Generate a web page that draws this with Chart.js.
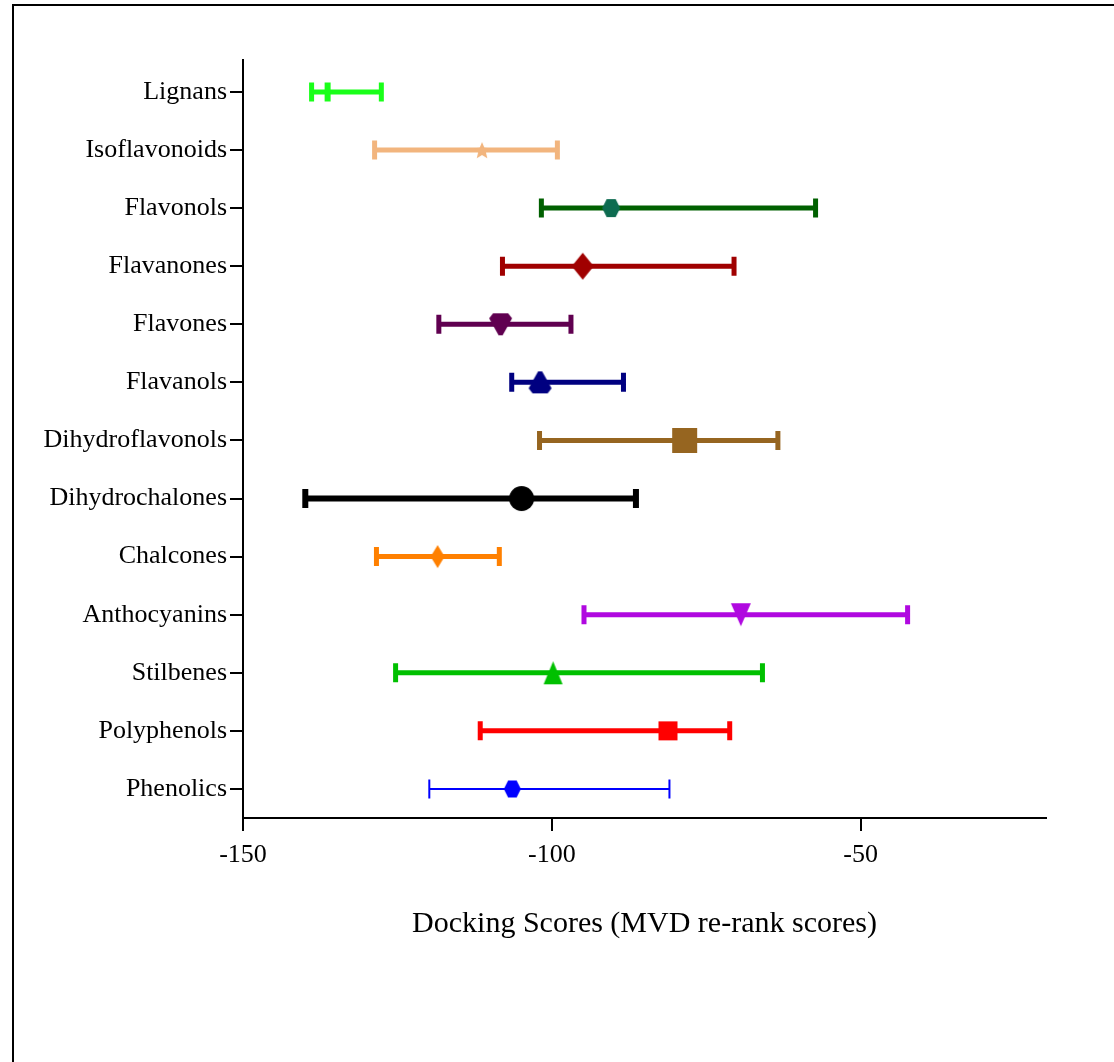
<!DOCTYPE html>
<html>
<head>
<meta charset="utf-8">
<title>Docking scores</title>
<script src="https://cdn.jsdelivr.net/npm/chart.js@4.4.1/dist/chart.umd.min.js"></script>
<style>
  html, body { margin: 0; padding: 0; background: #fff; }
  #wrap { position: relative; width: 1114px; height: 1062px; }
  #frame { position: absolute; left: 12px; top: 4px; right: 0; bottom: 0;
           border-top: 2px solid #000; border-left: 2px solid #000; }
  #chart { position: absolute; left: 0; top: 0; }
</style>
</head>
<body>
<div id="wrap">
  <div id="frame"></div>
  <canvas id="chart" width="1114" height="1062"></canvas>
</div>
<script>
// data (top to bottom)
const categories = ['Lignans', 'Isoflavonoids', 'Flavonols', 'Flavanones', 'Flavones', 'Flavanols',
  'Dihydroflavonols', 'Dihydrochalones', 'Chalcones', 'Anthocyanins', 'Stilbenes', 'Polyphenols', 'Phenolics'];
const means = [-136.3, -111.3, -90.4, -95.0, -108.3, -101.9, -78.5, -104.9, -118.5, -69.4, -99.8, -81.2, -106.4];
const lows  = [-139.3, -129.1, -102.1, -108.4, -118.7, -106.9, -102.4, -140.4, -128.8, -95.2, -125.7, -112.0, -120.0];
const highs = [-127.2, -98.7, -56.9, -70.1, -96.5, -88.0, -63.0, -85.9, -108.1, -42.0, -65.5, -70.8, -80.8];
const xTickValues = [-150, -100, -50];

// styling
const barColors = ['#19ff19', '#f2b57e', '#006000', '#a00000', '#600050', '#000080',
  '#966520', '#000000', '#ff8000', '#b008e0', '#00c000', '#ff0000', '#0000ff'];
const markerColors = ['#19ff19', '#f2b57e', '#0d6b50', '#a00000', '#600050', '#000080',
  '#966520', '#000000', '#ff8000', '#b008e0', '#00c000', '#ff0000', '#0000ff'];
const markerShapes = ['vbar', 'star', 'hex', 'diamond', 'downpent', 'uppent',
  'square', 'circle', 'diamond', 'down', 'up', 'square', 'hex'];
const markerSizes = [[6, 19], [18, 18], [18, 18], [22, 27], [23, 22], [23, 22],
  [25, 25], [25, 25], [14, 23], [20, 23], [19, 23], [19, 19], [17, 17]];
const lineWidths = [5, 5, 5, 5, 5, 5, 5, 6, 5, 5, 5, 5, 2];
const FONT = '"Liberation Serif", "Times New Roman", serif';

function makeMarker(shape, w, h, color) {
  const c = document.createElement('canvas');
  c.width = w + 2; c.height = h + 2;
  const g = c.getContext('2d');
  g.translate(c.width / 2, c.height / 2);
  g.fillStyle = color;
  const hw = w / 2, hh = h / 2;
  let pts = null;
  if (shape === 'vbar' || shape === 'square') {
    g.fillRect(-hw, -hh, w, h);
  } else if (shape === 'circle') {
    g.beginPath(); g.arc(0, 0, hw, 0, Math.PI * 2); g.fill();
  } else if (shape === 'diamond') {
    pts = [[0, -hh], [hw, 0], [0, hh], [-hw, 0]];
  } else if (shape === 'hex') {
    pts = [[-hw, 0], [-hw / 2, -hh], [hw / 2, -hh], [hw, 0], [hw / 2, hh], [-hw / 2, hh]];
  } else if (shape === 'up') {
    pts = [[0, -hh], [hw, hh], [-hw, hh]];
  } else if (shape === 'down') {
    pts = [[-hw, -hh], [hw, -hh], [0, hh]];
  } else if (shape === 'downpent') {
    pts = [[-hw + 4, -hh], [hw - 4, -hh], [hw, -hh + 5], [2, hh], [-2, hh], [-hw, -hh + 5]];
  } else if (shape === 'uppent') {
    pts = [[-2, -hh], [2, -hh], [hw, hh - 5], [hw - 4, hh], [-hw + 4, hh], [-hw, hh - 5]];
  } else if (shape === 'star') {
    pts = [];
    for (let k = 0; k < 10; k++) {
      const r = k % 2 === 0 ? hw : hw * 0.45;
      const a = -Math.PI / 2 + k * Math.PI / 5;
      pts.push([r * Math.cos(a), r * Math.sin(a) + 1]);
    }
  }
  if (pts) {
    g.beginPath();
    pts.forEach((p, i) => i ? g.lineTo(p[0], p[1]) : g.moveTo(p[0], p[1]));
    g.closePath(); g.fill();
  }
  return c;
}

const markers = categories.map((_, i) =>
  makeMarker(markerShapes[i], markerSizes[i][0], markerSizes[i][1], markerColors[i]));

// horizontal error bars with end caps, drawn under the markers
const errorBars = {
  id: 'errorBars',
  beforeDatasetsDraw(chart) {
    const { ctx, scales: { x, y } } = chart;
    ctx.save();
    ctx.lineCap = 'butt';
    categories.forEach((_, i) => {
      const py = y.getPixelForValue(i);
      const x0 = x.getPixelForValue(lows[i]);
      const x1 = x.getPixelForValue(highs[i]);
      const lw = lineWidths[i];
      ctx.strokeStyle = barColors[i];
      ctx.lineWidth = lw;
      ctx.beginPath();
      ctx.moveTo(x0, py); ctx.lineTo(x1, py);
      ctx.moveTo(x0 + lw / 2, py - 9.5); ctx.lineTo(x0 + lw / 2, py + 9.5);
      ctx.moveTo(x1 - lw / 2, py - 9.5); ctx.lineTo(x1 - lw / 2, py + 9.5);
      ctx.stroke();
    });
    ctx.restore();
  }
};

const ctx = document.getElementById('chart').getContext('2d');
new Chart(ctx, {
  type: 'scatter',
  data: {
    datasets: [{
      data: means.map((m, i) => ({ x: m, y: i })),
      pointStyle: markers,
      pointRadius: 12,
      showLine: false
    }]
  },
  options: {
    responsive: false,
    animation: false,
    layout: { padding: { top: 60, right: 68, bottom: 116, left: 0 } },
    plugins: { legend: { display: false }, tooltip: { enabled: false } },
    scales: {
      x: {
        type: 'linear',
        min: -150,
        max: -20,
        afterBuildTicks: s => { s.ticks = xTickValues.map(v => ({ value: v })); },
        afterFit: s => { s.height = 128; },
        grid: { drawOnChartArea: false, drawTicks: true, tickLength: 13, color: '#000', lineWidth: 2 },
        border: { display: true, color: '#000', width: 2 },
        ticks: { color: '#000', font: { family: FONT, size: 26 }, padding: 9 },
        title: {
          display: true,
          text: 'Docking Scores (MVD re-rank scores)',
          color: '#000',
          font: { family: FONT, size: 30 },
          padding: { top: 4, bottom: 4 }
        }
      },
      y: {
        type: 'linear',
        reverse: true,
        min: -0.55,
        max: 12.5,
        afterBuildTicks: s => { s.ticks = categories.map((_, i) => ({ value: i })); },
        afterFit: s => { s.width = 243; },
        grid: { drawOnChartArea: false, drawTicks: true, tickLength: 13, color: '#000', lineWidth: 2 },
        border: { display: true, color: '#000', width: 2 },
        ticks: {
          color: '#000',
          font: { family: FONT, size: 26 },
          padding: 3,
          callback: v => categories[v]
        }
      }
    }
  },
  plugins: [errorBars]
});
</script>
</body>
</html>
